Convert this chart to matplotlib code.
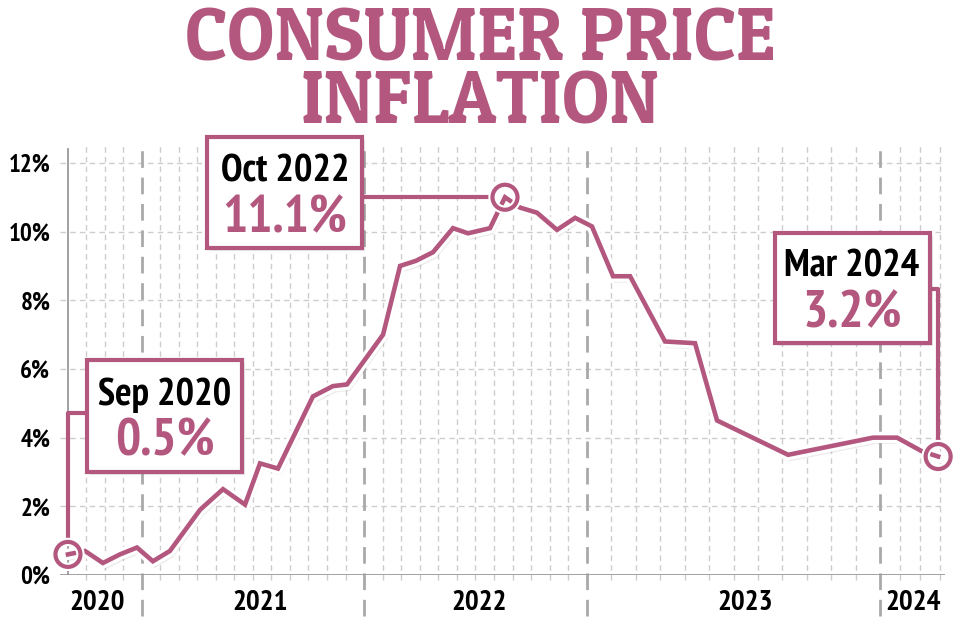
import matplotlib
matplotlib.use('Agg')
import matplotlib.pyplot as plt
import matplotlib.patheffects as pe
from matplotlib.patches import Rectangle
import numpy as np

# chart x-axis runs in "month slots" from Sep 2020 (the artist stretched 2023)
x_pos = [0.0, 0.92, 1.89, 2.81, 3.73, 4.59, 5.51, 7.14, 8.38, 9.57, 10.38, 11.35,
         13.24, 14.32, 15.08, 17.03, 17.95, 18.81, 19.73, 20.81, 21.62, 22.81,
         23.62, 24.43, 25.35, 26.43, 27.41, 28.32, 29.46, 30.38, 32.27, 33.89,
         35.08, 38.92, 43.51, 44.81, 46.16, 47.03]
cpi = [0.6, 0.7, 0.35, 0.6, 0.8, 0.4, 0.7, 1.9, 2.5, 2.05, 3.25, 3.1,
       5.2, 5.5, 5.55, 7.0, 9.0, 9.15, 9.4, 10.1, 9.95, 10.1,
       11.0, 10.7, 10.55, 10.05, 10.4, 10.15, 8.7, 8.7, 6.8, 6.75,
       4.5, 3.5, 4.0, 4.0, 3.6, 3.45]

years = ['2020', '2021', '2022', '2023', '2024']
year_starts = [0.0, 4.0, 16.0, 28.05, 43.9]
year_end = 47.4
year_label_x = [1.6, 10.4, 22.2, 36.6, 45.7]
months_in_year = [4, 12, 12, 12, 3]

y_ticks = [0, 2, 4, 6, 8, 10, 12]
y_labels = [f'{t}%' for t in y_ticks]

# highlighted points: (label, value text, index into series)
callouts = [('Sep 2020', '0.5%', 0), ('Oct 2022', '11.1%', 22), ('Mar 2024', '3.2%', 37)]

PINK = '#B3577F'
GRID = '#cdcdcd'
FONT = ['PT Sans Narrow', 'Fira Sans Extra Condensed', 'Roboto Condensed',
        'IBM Plex Sans Condensed', 'DejaVu Sans']
TITLE_FONT = ['Patua One', 'Arvo', 'DejaVu Serif']

fig = plt.figure(figsize=(9.6, 6.4), dpi=100)
ax = fig.add_axes([60 / 960, 1 - 575 / 640, 885 / 960, 432 / 640])
ax.set_xlim(-0.43, year_end)
ax.set_ylim(0, 12.58)
for s in ax.spines.values():
    s.set_visible(False)
ax.set_xticks([])
ax.set_yticks(y_ticks)
ax.set_yticklabels(y_labels, fontsize=18, fontweight='bold', family=FONT)
ax.tick_params(axis='y', length=0, pad=7)

# grid
for t in y_ticks[1:]:
    ax.axhline(t, color=GRID, lw=1, ls=(0, (4, 3)), zorder=1)
minor_x = []
for i, n in enumerate(months_in_year):
    if i == len(months_in_year) - 1:
        minor_x += [year_starts[i] + 1.08 * k for k in range(1, n + 1)]
    else:
        minor_x += list(np.linspace(year_starts[i], year_starts[i + 1], n + 1)[1:-1])
ax.vlines(minor_x, -0.15, 12.58, colors=GRID, lw=1, linestyles=(0, (4, 3)),
          clip_on=False, zorder=1)
ax.vlines(year_starts[1:], -1.2, 12.58, colors='#a9a9a9', lw=2,
          linestyles=(0, (6, 3.5)), clip_on=False, zorder=2)
ax.plot([0, 0], [0, 12.4], color='#9a9a9a', lw=1.3, zorder=2)
ax.axhline(0, color='#9a9a9a', lw=1.3, zorder=2)

for lab, xp in zip(years, year_label_x):
    ax.text(xp, -0.82, lab, ha='center', va='center', fontsize=21,
            fontweight='bold', family=FONT)

# main line
ax.plot(x_pos, cpi, color=PINK, lw=3.3, solid_joinstyle='miter', zorder=5,
        path_effects=[pe.SimpleLineShadow(offset=(1.5, -3), alpha=0.08),
                      pe.Stroke(linewidth=8, foreground='white'), pe.Normal()])

# leaders, boxes, markers
r_y = 0.38
r_x = 0.7
boxes = [(1.03, 3.0, 8.38, 3.26), (7.51, 9.53, 8.38, 3.23), (38.22, 6.76, 8.37, 3.2)]
text_x = [5.24, 11.73, 42.38]
label_base = [4.95, 11.45, 8.68]
value_base = [3.5, 9.99, 7.22]

i0 = callouts[0][2]
ax.plot([1.03, x_pos[i0], x_pos[i0]], [4.72, 4.72, cpi[i0] + r_y],
        color=PINK, lw=3, clip_on=False, zorder=6)
i1 = callouts[1][2]
ax.plot([15.89, x_pos[i1] - r_x], [cpi[i1], cpi[i1]], color=PINK, lw=3,
        clip_on=False, zorder=6)
i2 = callouts[2][2]
ax.plot([46.59, x_pos[i2], x_pos[i2]], [8.33, 8.33, cpi[i2] + r_y],
        color=PINK, lw=3, clip_on=False, zorder=6)

for (lab, val, idx), (bx, by, bw, bh), tx, lb, vb in zip(callouts, boxes, text_x,
                                                      label_base, value_base):
    ax.plot(x_pos[idx], cpi[idx], 'o', ms=18, mfc='none', mec=PINK, mew=3,
            zorder=7, clip_on=False,
            path_effects=[pe.Stroke(linewidth=6, foreground='white'), pe.Normal()])
    ax.add_patch(Rectangle((bx, by), bw, bh, fc='white', ec=PINK, lw=3,
                           clip_on=False, zorder=8,
                           path_effects=[pe.SimplePatchShadow(offset=(2, -2), alpha=0.12),
                                         pe.Normal()]))
    ax.text(tx, lb, lab, ha='center', va='baseline', fontsize=28,
            fontweight='bold', family=FONT, color='black', zorder=9)
    ax.text(tx, vb, val, ha='center', va='baseline', fontsize=38,
            fontweight='bold', family=FONT, color=PINK, zorder=9)

fig.text(0.5, 1 - 123 / 640, 'CONSUMER PRICE\nINFLATION', ha='center',
         va='baseline', ma='center', linespacing=0.875, fontsize=53, color=PINK,
         family=TITLE_FONT, fontweight='bold')

fig.savefig('out.png', dpi=100)
